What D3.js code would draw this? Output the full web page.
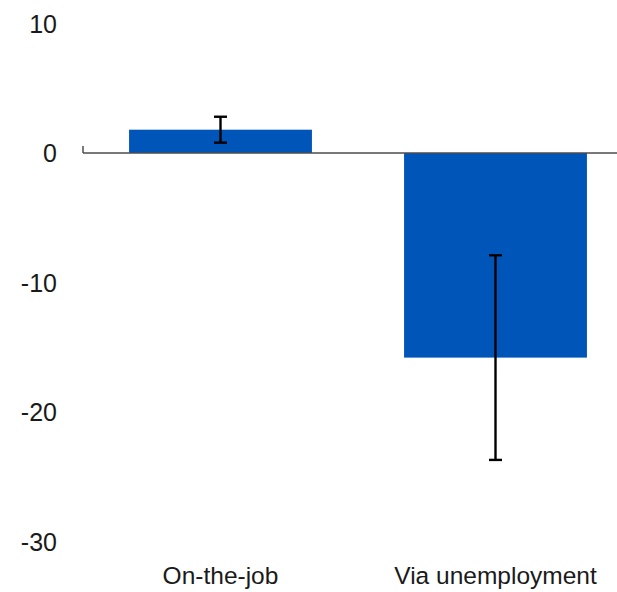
<!DOCTYPE html>
<html>
<head>
<meta charset="utf-8">
<script src="https://cdn.jsdelivr.net/npm/d3@7"></script>
<style>
  html, body { margin: 0; padding: 0; background: #ffffff; }
  svg { display: block; }
  text { font-family: "Liberation Sans", Arial, sans-serif; fill: #1a1a1a; }
</style>
</head>
<body>
<svg id="chart" width="617" height="592"></svg>
<script>
// Job transitions: point estimates with confidence intervals
const categories = ["On-the-job", "Via unemployment"];
const values = [1.8, -15.8];
const lowerBounds = [0.8, -23.7];
const upperBounds = [2.8, -7.9];
const yTicks = [10, 0, -10, -20, -30];

const svg = d3.select("#chart");
const width = 617, height = 592;

const x = d3.scaleBand()
  .domain(categories)
  .range([83, 633])
  .paddingInner(0.335)
  .paddingOuter(0.1675);

const y = d3.scaleLinear()
  .domain([-30, 10])
  .range([541.5, 23.5]);

const barColor = "#0055b8";

// bars
svg.append("g")
  .selectAll("rect")
  .data(categories)
  .join("rect")
  .attr("x", d => x(d))
  .attr("width", x.bandwidth())
  .attr("y", (d, i) => y(Math.max(0, values[i])))
  .attr("height", (d, i) => Math.abs(y(values[i]) - y(0)))
  .attr("fill", barColor);

// zero baseline with a small tick at its left end
const base = svg.append("g").attr("stroke", "#4d4d4d").attr("stroke-width", 1.5).attr("fill", "none");
base.append("line")
  .attr("x1", 83).attr("x2", width)
  .attr("y1", y(0)).attr("y2", y(0));
base.append("line")
  .attr("x1", 83).attr("x2", 83)
  .attr("y1", y(0) - 7).attr("y2", y(0));

// error bars
const capHalf = 6.5;
const err = svg.append("g").attr("stroke", "#000").attr("stroke-width", 2.4).attr("fill", "none");
categories.forEach((c, i) => {
  const cx = x(c) + x.bandwidth() / 2;
  err.append("line")
    .attr("x1", cx).attr("x2", cx)
    .attr("y1", y(upperBounds[i])).attr("y2", y(lowerBounds[i]));
  [upperBounds[i], lowerBounds[i]].forEach(v => {
    err.append("line")
      .attr("x1", cx - capHalf).attr("x2", cx + capHalf)
      .attr("y1", y(v)).attr("y2", y(v));
  });
});

// y tick labels (no axis line)
svg.append("g")
  .selectAll("text")
  .data(yTicks)
  .join("text")
  .attr("x", 57)
  .attr("y", d => y(d))
  .attr("dy", "0.36em")
  .attr("text-anchor", "end")
  .attr("font-size", 25)
  .text(d => d);

// category labels
svg.append("g")
  .selectAll("text")
  .data(categories)
  .join("text")
  .attr("x", d => x(d) + x.bandwidth() / 2)
  .attr("y", 584)
  .attr("text-anchor", "middle")
  .attr("font-size", 24.5)
  .text(d => d);
</script>
</body>
</html>
